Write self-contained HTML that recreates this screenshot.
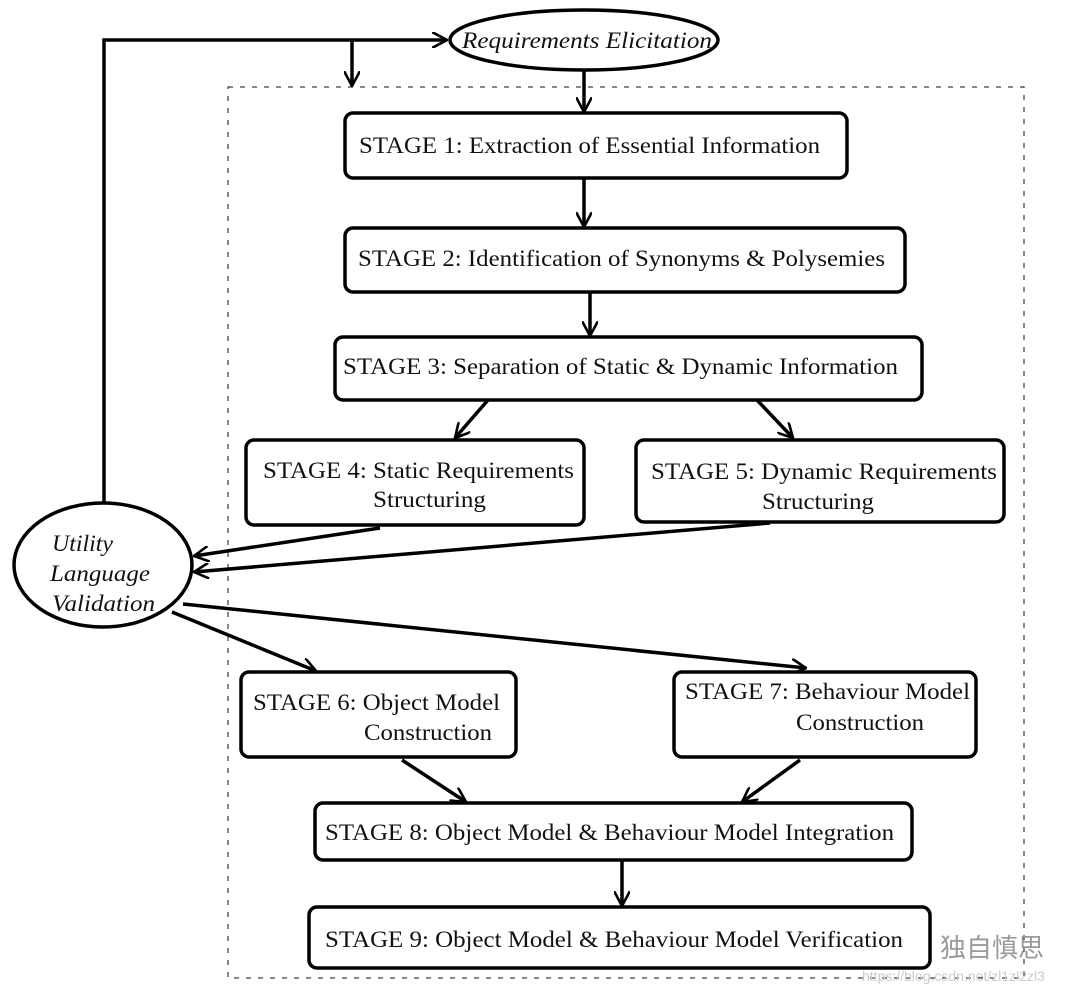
<!DOCTYPE html>
<html><head><meta charset="utf-8"><style>
body{margin:0;background:#fff;width:1080px;height:995px;overflow:hidden}
svg text{font-family:"Liberation Serif",serif;fill:#111}
</style></head><body>
<svg width="1080" height="995" viewBox="0 0 1080 995" xmlns="http://www.w3.org/2000/svg">
<defs><marker id="a" viewBox="0 0 16 16" refX="15" refY="8" markerWidth="16" markerHeight="16" markerUnits="userSpaceOnUse" orient="auto"><path d="M0,0 L15,8 L0,16" fill="none" stroke="#000" stroke-width="2.6"/></marker></defs>
<rect x="228" y="87" width="796" height="891" fill="none" stroke="#111" stroke-width="1" stroke-dasharray="5,7"/>
<g stroke="#000" stroke-width="3.5" fill="none">
<polyline points="104,505 104,40 447,40" marker-end="url(#a)"/>
<line x1="352" y1="40" x2="352" y2="86" marker-end="url(#a)"/>
<line x1="584" y1="70" x2="584" y2="112" marker-end="url(#a)"/>
<line x1="584" y1="178" x2="584" y2="227" marker-end="url(#a)"/>
<line x1="590" y1="292" x2="590" y2="336" marker-end="url(#a)"/>
<line x1="488" y1="400" x2="455" y2="438" marker-end="url(#a)"/>
<line x1="757" y1="400" x2="793" y2="438" marker-end="url(#a)"/>
<line x1="380" y1="528" x2="194" y2="556" marker-end="url(#a)"/>
<line x1="770" y1="523" x2="194" y2="572" marker-end="url(#a)"/>
<line x1="183" y1="604" x2="806" y2="668" marker-end="url(#a)"/>
<line x1="172" y1="612" x2="316" y2="671" marker-end="url(#a)"/>
<line x1="402" y1="760" x2="466" y2="802" marker-end="url(#a)"/>
<line x1="800" y1="760" x2="742" y2="802" marker-end="url(#a)"/>
<line x1="622" y1="860" x2="622" y2="906" marker-end="url(#a)"/>
</g>
<g stroke="#000" stroke-width="3.5" fill="#fff">
<ellipse cx="584" cy="40" rx="134" ry="30"/>
<ellipse cx="103" cy="565" rx="89" ry="62"/>
<rect x="345" y="113" width="502" height="65" rx="8"/>
<rect x="345" y="228" width="560" height="64" rx="8"/>
<rect x="335" y="337" width="587" height="63" rx="8"/>
<rect x="246" y="440" width="338" height="85" rx="8"/>
<rect x="636" y="440" width="368" height="82" rx="8"/>
<rect x="241" y="672" width="275" height="85" rx="8"/>
<rect x="674" y="672" width="302" height="85" rx="8"/>
<rect x="315" y="803" width="597" height="57" rx="8"/>
<rect x="309" y="907" width="621" height="61" rx="8"/>
</g>
<g font-size="23">
<text x="462" y="48" font-style="italic" textLength="250" lengthAdjust="spacingAndGlyphs">Requirements Elicitation</text>
<text x="52" y="551" font-style="italic" textLength="61" lengthAdjust="spacingAndGlyphs">Utility</text>
<text x="50" y="581" font-style="italic" textLength="100" lengthAdjust="spacingAndGlyphs">Language</text>
<text x="52" y="611" font-style="italic" textLength="103" lengthAdjust="spacingAndGlyphs">Validation</text>
<text x="359" y="153" textLength="461" lengthAdjust="spacingAndGlyphs">STAGE 1: Extraction of Essential Information</text>
<text x="358" y="266" textLength="527" lengthAdjust="spacingAndGlyphs">STAGE 2: Identification of Synonyms &amp; Polysemies</text>
<text x="343" y="374" textLength="555" lengthAdjust="spacingAndGlyphs">STAGE 3: Separation of Static &amp; Dynamic Information</text>
<text x="263" y="478" textLength="311" lengthAdjust="spacingAndGlyphs">STAGE 4: Static Requirements</text>
<text x="373" y="507" textLength="113" lengthAdjust="spacingAndGlyphs">Structuring</text>
<text x="651" y="479" textLength="346" lengthAdjust="spacingAndGlyphs">STAGE 5: Dynamic Requirements</text>
<text x="762" y="509" textLength="112" lengthAdjust="spacingAndGlyphs">Structuring</text>
<text x="253" y="710" textLength="247" lengthAdjust="spacingAndGlyphs">STAGE 6: Object Model</text>
<text x="364" y="740" textLength="128" lengthAdjust="spacingAndGlyphs">Construction</text>
<text x="685" y="699" textLength="285" lengthAdjust="spacingAndGlyphs">STAGE 7: Behaviour Model</text>
<text x="796" y="730" textLength="128" lengthAdjust="spacingAndGlyphs">Construction</text>
<text x="325" y="840" textLength="569" lengthAdjust="spacingAndGlyphs">STAGE 8: Object Model &amp; Behaviour Model Integration</text>
<text x="325" y="947" textLength="578" lengthAdjust="spacingAndGlyphs">STAGE 9: Object Model &amp; Behaviour Model Verification</text>
</g>
<text x="940" y="957" font-size="26" style="font-family:'Noto Sans CJK SC',sans-serif;fill:#999">独自慎思</text>
<text x="862" y="981" font-size="14" style="font-family:'Liberation Sans',sans-serif;fill:#ccc">https://blog.csdn.net/zl1zl2zl3</text>
</svg>
</body></html>
